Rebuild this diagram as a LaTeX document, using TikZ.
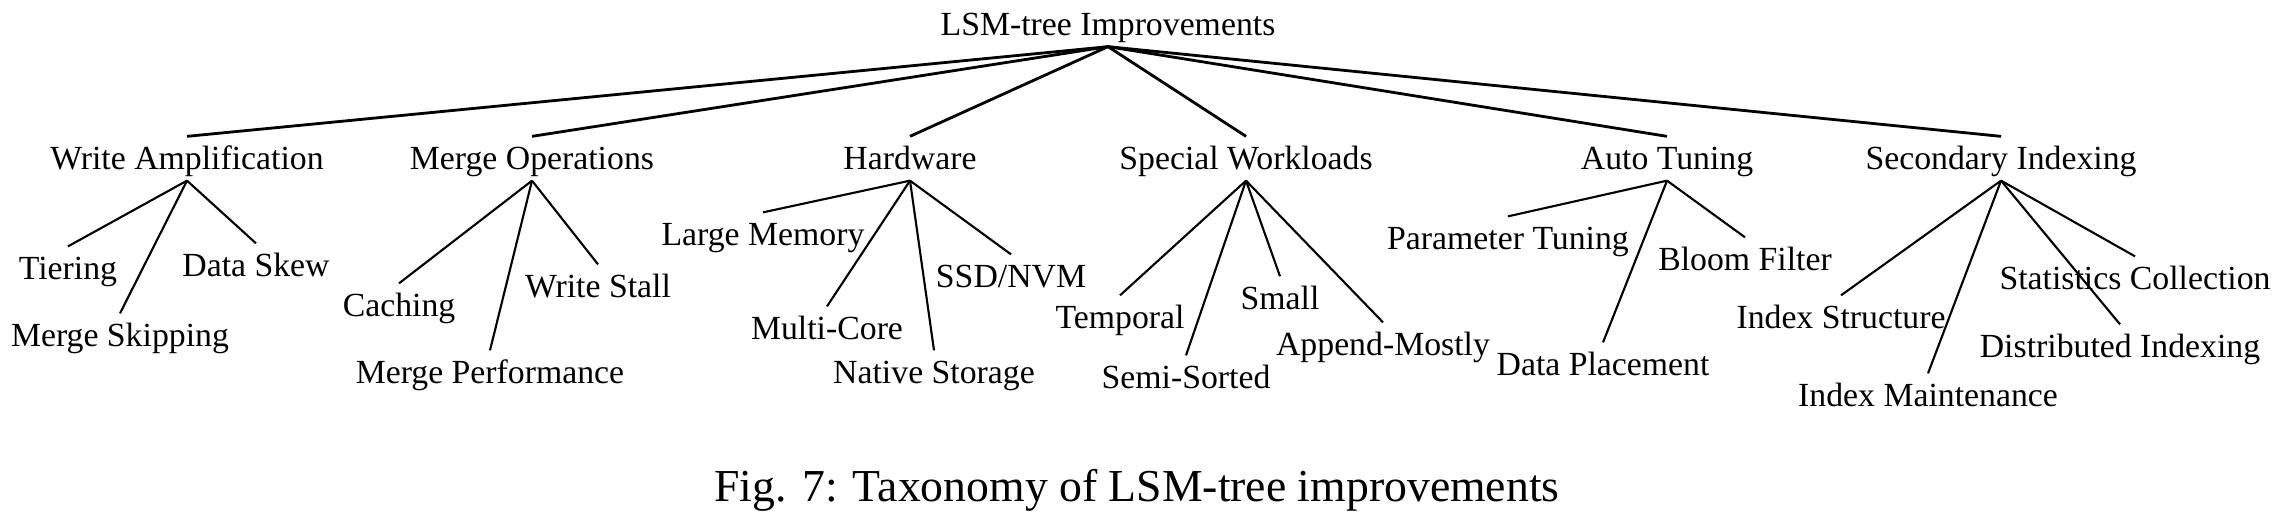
\documentclass[tikz,border=0pt]{standalone}
\usepackage{fontspec}
\setmainfont{Liberation Serif}
\usepackage{tikz}
\usetikzlibrary{positioning}

\begin{document}
\begin{tikzpicture}[
			x=0.01cm, y=-0.01cm,
			topic/.style={font=\fontsize{9.6}{11}\selectfont, text height=6pt, text depth=0pt, inner xsep=0pt, inner ysep=3.1pt},
			branch/.style={line width=0.8pt},
			twig/.style={line width=0.6pt}
			]

			\useasboundingbox (0,0) rectangle (2286,518);

			% root
			\node[topic] (root) at (1108,24.5) {LSM-tree Improvements};

			% first level
			\node[topic] (wamp) at (187,158.5) {Write Amplification};
			\node[topic] (mops) at (532,158.5) {Merge Operations};
			\node[topic] (hw) at (910,158.5) {Hardware};
			\node[topic] (swl) at (1246,158.5) {Special Workloads};
			\node[topic] (tune) at (1667,158.5) {Auto Tuning};
			\node[topic] (sidx) at (2001,158.5) {Secondary Indexing};

			% second level
			\node[topic] (tier) at (68,268.5) {Tiering};
			\node[topic] (mskip) at (120,335.5) {Merge Skipping};
			\node[topic] (skew) at (256,265.5) {Data Skew};

			\node[topic] (cache) at (399,305.5) {Caching};
			\node[topic] (mperf) at (490,372.5) {Merge Performance};
			\node[topic] (stall) at (598,286.5) {Write Stall};

			\node[topic] (mem) at (763,234.5) {Large Memory};
			\node[topic] (core) at (827,328.5) {Multi-Core};
			\node[topic] (native) at (934,372.5) {Native Storage};
			\node[topic] (ssd) at (1011,276.5) {SSD/NVM};

			\node[topic] (temp) at (1120,317.5) {Temporal};
			\node[topic] (semi) at (1186,377.5) {Semi-Sorted};
			\node[topic] (small) at (1280,298.5) {Small};
			\node[topic] (append) at (1383,344.5) {Append-Mostly};

			\node[topic] (param) at (1508,238.5) {Parameter Tuning};
			\node[topic] (place) at (1603,364.5) {Data Placement};
			\node[topic] (bloom) at (1745,259.5) {Bloom Filter};

			\node[topic] (istruct) at (1841,317.5) {Index Structure};
			\node[topic] (imaint) at (1928,395.5) {Index Maintenance};
			\node[topic] (didx) at (2120,346.5) {Distributed Indexing};
			\node[topic] (stats) at (2135,278.5) {Statistics Collection};

			% caption
			\node[font=\fontsize{13}{15}\selectfont, inner sep=0pt] (caption) at (1137,490) {Fig. 7: Taxonomy of LSM-tree improvements};

			\foreach \t in {wamp,mops,hw,swl,tune,sidx}
				\draw[branch] (root.south) -- (\t.north);

			\foreach \p/\c in {wamp/tier,wamp/mskip,wamp/skew,
				mops/cache,mops/mperf,mops/stall,
				hw/mem,hw/core,hw/native,hw/ssd,
				swl/temp,swl/semi,swl/small,swl/append,
				tune/param,tune/place,tune/bloom,
				sidx/istruct,sidx/imaint,sidx/didx,sidx/stats}
				{
				\draw[twig] (\p.south) -- (\c.north);
				}

		\end{tikzpicture}
\end{document}
